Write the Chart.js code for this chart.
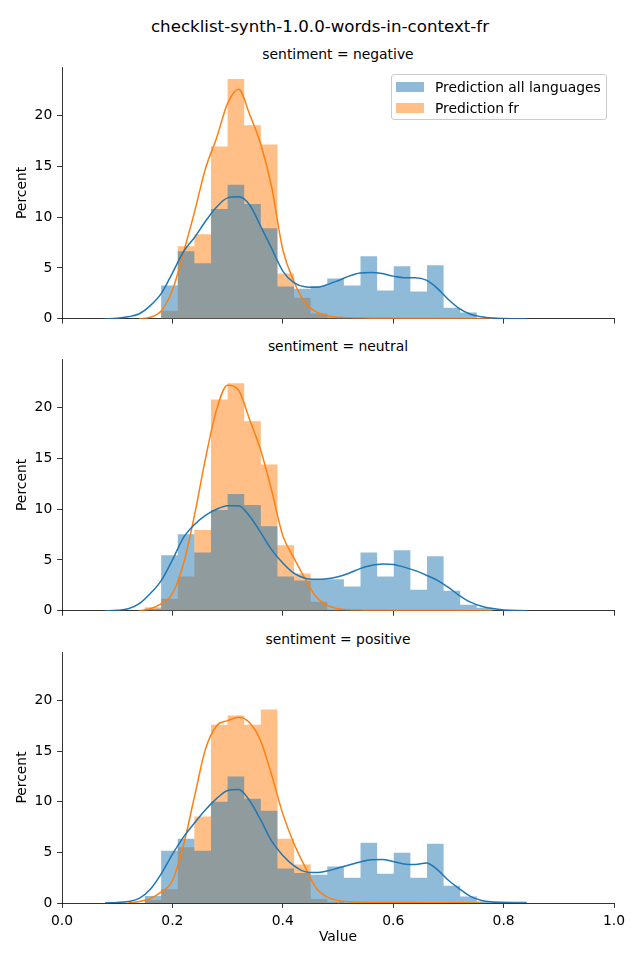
<!DOCTYPE html>
<html>
<head>
<meta charset="utf-8">
<script src="https://cdn.jsdelivr.net/npm/chart.js@4.4.1/dist/chart.umd.min.js"></script>
<style>
  body { margin: 0; background: #fff; }
  #wrap { position: relative; width: 640px; height: 960px; overflow: hidden; font-family: 'DejaVu Sans', sans-serif; color: #000; }
  canvas { position: absolute; left: 0; }
  .txt { position: absolute; white-space: nowrap; transform: translate(-50%, -50%); line-height: 1.2; }
  .sup { font-size: 16.67px; }
  .ptitle { font-size: 13.89px; }
  #legend { position: absolute; left: 391px; top: 74px; width: 214px; height: 44px; border: 1px solid #cccccc; border-radius: 3px; background: rgba(255,255,255,0.8); z-index: 5; font-size: 13.89px; }
  .row { position: absolute; left: 0; height: 16px; line-height: 16px; }
  .patch { position: absolute; left: 4px; top: 3px; width: 28px; height: 10px; }
  .lab { position: absolute; left: 43px; top: 0; white-space: nowrap; }
</style>
</head>
<body>
<div id="wrap">
  <div class="txt sup" style="left:320px; top:27px;">checklist-synth-1.0.0-words-in-context-fr</div>
  <div class="txt ptitle" style="left:338px; top:54px;">sentiment = negative</div>
  <div class="txt ptitle" style="left:338px; top:346px;">sentiment = neutral</div>
  <div class="txt ptitle" style="left:338px; top:639px;">sentiment = positive</div>
  <canvas id="c1" width="640" height="292" style="top:40px;"></canvas>
  <canvas id="c2" width="640" height="294" style="top:330px;"></canvas>
  <canvas id="c3" width="640" height="338" style="top:622px;"></canvas>
  <div id="legend">
    <div class="row" style="top:4px;"><div class="patch" style="background:rgba(31,119,180,0.5)"></div><div class="lab">Prediction all languages</div></div>
    <div class="row" style="top:25px;"><div class="patch" style="background:rgba(255,127,14,0.5)"></div><div class="lab">Prediction fr</div></div>
  </div>
</div>
<script>
// histogram bin edges (shared by all facets)
const binEdges = [0.1495, 0.1796, 0.2097, 0.2398, 0.2699, 0.3000, 0.3301, 0.3602, 0.3903, 0.4204, 0.4505, 0.4806,
  0.5107, 0.5408, 0.5709, 0.6010, 0.6311, 0.6612, 0.6913, 0.7214, 0.7515, 0.7816, 0.8117, 0.8418];

// percent per bin
const allNegative = [0, 3.27, 6.65, 5.46, 10.8, 13.2, 11.3, 8.9, 3.17, 2.95, 3.24, 3.97, 3.27, 6.15, 2.78, 5.16, 2.68, 5.26, 1.09, 0.63, 0.1, 0.05, 0.05];
const frNegative = [0, 0.79, 7.14, 8.33, 16.96, 23.6, 19.05, 17.16, 4.46, 2.08, 0.53, 0.1, 0, 0, 0, 0, 0, 0, 0, 0, 0, 0, 0];
const allNeutral = [0.2, 5.46, 7.54, 5.75, 9.92, 11.5, 10.4, 8.33, 3.37, 2.98, 3.1, 3.1, 2.38, 5.75, 3.37, 5.95, 2.08, 5.36, 1.98, 0.6, 0.3, 0.1, 0.1];
const frNeutral = [0.35, 1.19, 3.37, 7.94, 20.8, 22.4, 18.65, 14.4, 6.45, 3.67, 0.89, 0.1, 0, 0, 0, 0, 0, 0, 0, 0, 0, 0, 0];
const allPositive = [0.7, 5.16, 6.35, 5.16, 10.0, 12.5, 10.3, 9.1, 3.4, 2.95, 2.8, 3.6, 2.5, 5.95, 2.9, 4.96, 2.5, 5.85, 1.7, 0.65, 0.15, 0.15, 0.15];
const frPositive = [0.3, 1.36, 5.5, 8.53, 17.6, 18.5, 17.6, 19.1, 6.35, 3.8, 0.4, 0.1, 0, 0, 0, 0, 0, 0, 0, 0, 0, 0, 0];

// kde curves
const kdeX = [0.078, 0.10, 0.12, 0.14, 0.16, 0.18, 0.20, 0.22, 0.24, 0.26, 0.28, 0.30, 0.32, 0.34, 0.36, 0.38, 0.40, 0.42, 0.44, 0.46,
  0.48, 0.50, 0.52, 0.54, 0.56, 0.58, 0.60, 0.62, 0.64, 0.66, 0.68, 0.70, 0.72, 0.74, 0.76, 0.78, 0.80, 0.82, 0.842];
const kdeAllNegative = [0, 0.05, 0.2, 0.5, 1.3, 2.5, 4.5, 6.6, 8.0, 9.6, 11.0, 11.9, 12.0, 11.2, 9.1, 6.9, 4.7, 3.55, 3.15, 3.1,
  3.35, 3.75, 4.2, 4.5, 4.55, 4.45, 4.2, 4.05, 4.05, 3.8, 3.0, 1.9, 1.0, 0.45, 0.2, 0.08, 0.03, 0.01, 0];
const kdeFrNegative = [null, null, null, 0, 0.15, 0.8, 2.8, 6.5, 10.5, 14.8, 17.8, 21.2, 22.6, 20.1, 17.2, 12.9, 6.8, 3.7, 1.6, 0.7,
  0.3, 0.15, 0.1, 0.08, 0.06, 0.05, 0.05, 0.04, 0.04, 0.03, 0.03, 0.02, 0.02, 0.01, 0.01, 0, null, null, null];
const kdeAllNeutral = [0, 0.05, 0.2, 0.7, 1.7, 3.0, 5.0, 7.2, 8.5, 9.4, 10.0, 10.35, 10.35, 9.3, 7.7, 6.0, 4.7, 3.7, 3.2, 3.1,
  3.15, 3.35, 3.7, 4.15, 4.45, 4.6, 4.55, 4.3, 3.95, 3.5, 3.0, 2.3, 1.5, 0.85, 0.45, 0.22, 0.08, 0.02, 0];
const kdeFrNeutral = [null, null, null, 0, 0.2, 0.7, 1.7, 4.6, 9.4, 15.0, 19.8, 22.2, 21.7, 18.8, 15.8, 11.8, 7.4, 5.2, 3.2, 1.4,
  0.55, 0.2, 0.1, 0.07, 0.05, 0.05, 0.04, 0.04, 0.03, 0.03, 0.02, 0.02, 0.02, 0.01, 0.01, 0, null, null, null];
const kdeAllPositive = [0, 0.05, 0.15, 0.45, 1.35, 2.9, 4.8, 6.5, 7.9, 9.2, 10.3, 11.1, 11.2, 10.1, 8.2, 6.1, 4.7, 3.7, 3.1, 3.0,
  3.15, 3.45, 3.75, 4.05, 4.28, 4.3, 4.1, 3.85, 3.8, 3.95, 3.3, 2.25, 1.4, 0.65, 0.25, 0.1, 0.04, 0.01, 0];
const kdeFrPositive = [null, null, 0, 0.15, 0.45, 1.1, 2.2, 5.7, 10.5, 15.2, 17.5, 18.0, 18.35, 17.8, 16.0, 12.6, 8.8, 5.9, 3.6, 1.5,
  0.6, 0.25, 0.12, 0.08, 0.06, 0.05, 0.05, 0.04, 0.04, 0.03, 0.03, 0.02, 0.02, 0.01, 0, null, null, null, null];

const yMax = 24.78;

Chart.defaults.font.family = "'DejaVu Sans', sans-serif";
Chart.defaults.font.size = 13.89;
Chart.defaults.color = '#000';

function points(xs, ys) {
  return xs.map((x, i) => ({x: x, y: ys[i]}));
}

// one point per bin edge; the last edge closes the last bin
function histPoints(vals) {
  return binEdges.map((x, i) => ({x: x, y: i < vals.length ? vals[i] : vals[vals.length - 1]}));
}

function histDataset(label, vals, color, order) {
  return {type: 'line', label: label, data: histPoints(vals), stepped: 'before', fill: 'origin',
    backgroundColor: color, borderColor: 'rgba(0,0,0,0)', borderWidth: 0, pointRadius: 0, order: order};
}

function kdeDataset(vals, color, order) {
  return {type: 'line', data: points(kdeX, vals), borderColor: color, borderWidth: 1.5, pointRadius: 0,
    cubicInterpolationMode: 'monotone', fill: false, order: order};
}

function makePanel(id, allVals, frVals, kdeAll, kdeFr, padTop, xHeight, bottomAxis) {
  const ctx = document.getElementById(id).getContext('2d');
  return new Chart(ctx, {
    type: 'line',
    data: {
      datasets: [
        kdeDataset(kdeAll, '#1f77b4', 0),
        kdeDataset(kdeFr, '#ff7f0e', 1),
        histDataset('Prediction all languages', allVals, 'rgba(31,119,180,0.5)', 2),
        histDataset('Prediction fr', frVals, 'rgba(255,127,14,0.5)', 3)
      ]
    },
    options: {
      responsive: false,
      animation: false,
      devicePixelRatio: 1,
      layout: {padding: {top: padTop, right: 26, bottom: 0, left: 0}},
      plugins: {legend: {display: false}, tooltip: {enabled: false}},
      scales: {
        x: {
          type: 'linear', min: 0, max: 1, offset: false,
          grid: {drawOnChartArea: false, drawTicks: true, tickLength: 4.86, tickWidth: 0.8, tickColor: '#000'},
          border: {display: true, color: '#000', width: 0.8},
          ticks: {stepSize: 0.2, padding: 4.86, maxRotation: 0, autoSkip: false,
            callback: v => bottomAxis ? v.toFixed(1) : ''},
          title: {display: bottomAxis, text: 'Value', padding: {top: 0, bottom: 14.7}},
          afterFit: s => { s.height = xHeight; }
        },
        y: {
          type: 'linear', min: 0, max: yMax,
          grid: {drawOnChartArea: false, drawTicks: true, tickLength: 4.86, tickWidth: 0.8, tickColor: '#000'},
          border: {display: true, color: '#000', width: 0.8},
          ticks: {stepSize: 5, padding: 4.86, includeBounds: false},
          title: {display: true, text: 'Percent', padding: {top: 13.7, bottom: 0}},
          afterFit: s => { s.width = 62; }
        }
      }
    }
  });
}

makePanel('c1', allNegative, frNegative, kdeAllNegative, kdeFrNegative, 27, 13, false);
makePanel('c2', allNeutral, frNeutral, kdeAllNeutral, kdeFrNeutral, 29, 13, false);
makePanel('c3', allPositive, frPositive, kdeAllPositive, kdeFrPositive, 30, 57, true);
</script>
</body>
</html>
